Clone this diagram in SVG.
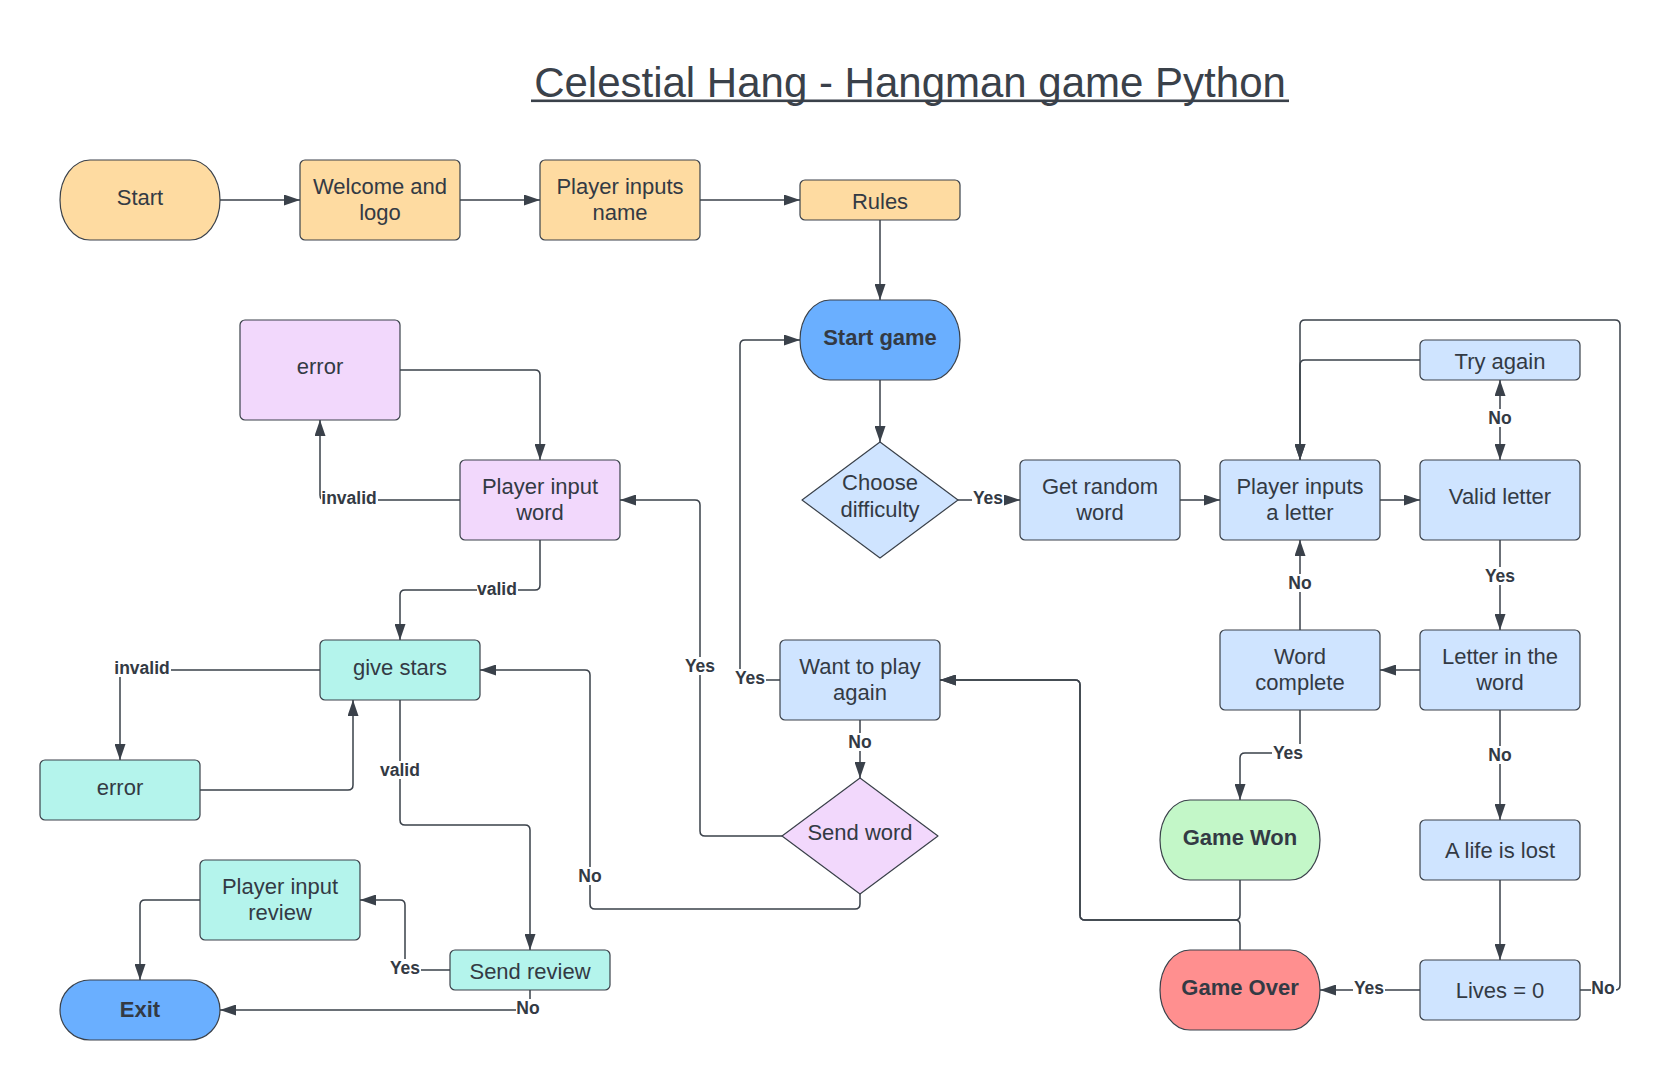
<svg xmlns="http://www.w3.org/2000/svg" width="1661" height="1080" viewBox="0 0 1661 1080">
<style>
text{font-family:"Liberation Sans",Arial,sans-serif;fill:#333a44}
.t{font-size:22px;text-anchor:middle}
.b{font-size:22px;font-weight:bold;text-anchor:middle}
.lbl{font-size:17.5px;font-weight:bold;text-anchor:middle}
.lb{fill:#ffffff;stroke:none}
.sh{stroke:#3a414a;stroke-width:1.2}
.or{fill:#fedba1}
.lbl1{fill:#cfe4ff}
.bl{fill:#6aafff}
.pu{fill:#f2d8fc}
.te{fill:#b4f4ec}
.gr{fill:#c3f7c8}
.rd{fill:#ff8f8f}
.c path{fill:none;stroke:#3a414a;stroke-width:1.5;marker-end:url(#ah)}
</style>
<defs>
<marker id="ah" viewBox="0 0 16 11" refX="16" refY="5.5" markerWidth="16" markerHeight="11" markerUnits="userSpaceOnUse" orient="auto-start-reverse">
<path d="M0,0 L16,5.5 L0,11 z" fill="#3a414a"/>
</marker>
</defs>
<rect x="0" y="0" width="1661" height="1080" fill="#ffffff"/>
<g id="title">
<text x="910" y="97" style="font-size:42px;text-anchor:middle;fill:#3a414a">Celestial Hang - Hangman game Python</text>
<rect x="531" y="99.5" width="758" height="2.6" fill="#3a414a"/>
</g>

<g class="c" id="connectors">
<path d="M220,200 H300"/>
<path d="M460,200 H540"/>
<path d="M700,200 H800"/>
<path d="M880,220 V300"/>
<path d="M880,380 V442"/>
<path d="M958,500 H1020"/>
<path d="M1180,500 H1220"/>
<path d="M1380,500 H1420"/>
<path d="M1500,460 V380" style="marker-start:url(#ah)"/>
<path d="M1420,360 H1305 Q1300,360 1300,365 V460"/>
<path d="M1580,990 H1615 Q1620,990 1620,985 V325 Q1620,320 1615,320 H1305 Q1300,320 1300,325 V460"/>
<path d="M1500,540 V630"/>
<path d="M1420,670 H1380"/>
<path d="M1300,630 V540"/>
<path d="M1300,710 V748 Q1300,753 1295,753 H1245 Q1240,753 1240,758 V800"/>
<path d="M1500,710 V820"/>
<path d="M1500,880 V960"/>
<path d="M1420,990 H1320"/>
<path d="M1240,880 V915 Q1240,920 1235,920 H1085 Q1080,920 1080,915 V685 Q1080,680 1075,680 H940"/>
<path d="M1240,950 V925 Q1240,920 1235,920 H1085 Q1080,920 1080,915 V685 Q1080,680 1075,680 H940"/>
<path d="M780,680 H745 Q740,680 740,675 V345 Q740,340 745,340 H800"/>
<path d="M860,720 V778"/>
<path d="M782,836 H705 Q700,836 700,831 V505 Q700,500 695,500 H620"/>
<path d="M860,893 V904 Q860,909 855,909 H595 Q590,909 590,904 V675 Q590,670 585,670 H480"/>
<path d="M400,370 H535 Q540,370 540,375 V460"/>
<path d="M460,500 H325 Q320,500 320,495 V420"/>
<path d="M540,540 V585 Q540,590 535,590 H405 Q400,590 400,595 V640"/>
<path d="M320,670 H125 Q120,670 120,675 V760"/>
<path d="M200,790 H348 Q353,790 353,785 V700"/>
<path d="M400,700 V820 Q400,825 405,825 H525 Q530,825 530,830 V950"/>
<path d="M450,970 H410 Q405,970 405,965 V905 Q405,900 400,900 H360"/>
<path d="M200,900 H145 Q140,900 140,905 V980"/>
<path d="M530,990 V1005 Q530,1010 525,1010 H220"/>
<g id="labels">
<rect class="lb" x="972" y="489" width="32" height="18"/><text class="lbl" x="988" y="504">Yes</text>
<rect class="lb" x="1488" y="409" width="25" height="18"/><text class="lbl" x="1500" y="424">No</text>
<rect class="lb" x="1484" y="567" width="32" height="18"/><text class="lbl" x="1500" y="582">Yes</text>
<rect class="lb" x="1288" y="574" width="25" height="18"/><text class="lbl" x="1300" y="589">No</text>
<rect class="lb" x="1272" y="744" width="32" height="18"/><text class="lbl" x="1288" y="759">Yes</text>
<rect class="lb" x="1488" y="746" width="25" height="18"/><text class="lbl" x="1500" y="761">No</text>
<rect class="lb" x="1353" y="979" width="32" height="18"/><text class="lbl" x="1369" y="994">Yes</text>
<rect class="lb" x="1591" y="979" width="25" height="18"/><text class="lbl" x="1603" y="994">No</text>
<rect class="lb" x="734" y="669" width="32" height="18"/><text class="lbl" x="750" y="684">Yes</text>
<rect class="lb" x="848" y="733" width="25" height="18"/><text class="lbl" x="860" y="748">No</text>
<rect class="lb" x="684" y="657" width="32" height="18"/><text class="lbl" x="700" y="672">Yes</text>
<rect class="lb" x="578" y="867" width="25" height="18"/><text class="lbl" x="590" y="882">No</text>
<rect class="lb" x="321" y="489" width="57" height="18"/><text class="lbl" x="349" y="504">invalid</text>
<rect class="lb" x="477" y="580" width="41" height="18"/><text class="lbl" x="497" y="595">valid</text>
<rect class="lb" x="114" y="659" width="57" height="18"/><text class="lbl" x="142" y="674">invalid</text>
<rect class="lb" x="380" y="761" width="41" height="18"/><text class="lbl" x="400" y="776">valid</text>
<rect class="lb" x="389" y="959" width="32" height="18"/><text class="lbl" x="405" y="974">Yes</text>
<rect class="lb" x="516" y="999" width="25" height="18"/><text class="lbl" x="528" y="1014">No</text>
</g>
</g>

<g id="start"><rect class="sh or" x="60" y="160" width="160" height="80" rx="30" ry="40"/><text class="t" x="140" y="205">Start</text></g>
<g id="welcome"><rect class="sh or" x="300" y="160" width="160" height="80" rx="5"/><text class="t" x="380" y="193.5">Welcome and</text><text class="t" x="380" y="220">logo</text></g>
<g id="player-name"><rect class="sh or" x="540" y="160" width="160" height="80" rx="5"/><text class="t" x="620" y="193.5">Player inputs</text><text class="t" x="620" y="220">name</text></g>
<g id="rules"><rect class="sh or" x="800" y="180" width="160" height="40" rx="5"/><text class="t" x="880" y="209">Rules</text></g>
<g id="start-game"><rect class="sh bl" x="800" y="300" width="160" height="80" rx="30" ry="40"/><text class="b" x="880" y="345">Start game</text></g>
<g id="error1"><rect class="sh pu" x="240" y="320" width="160" height="100" rx="5"/><text class="t" x="320" y="374">error</text></g>
<g id="player-word"><rect class="sh pu" x="460" y="460" width="160" height="80" rx="5"/><text class="t" x="540" y="493.5">Player input</text><text class="t" x="540" y="520">word</text></g>
<g id="choose"><polygon class="sh lbl1" points="880,442 958,500 880,558 802,500" stroke-linejoin="round"/><text class="t" x="880" y="490">Choose</text><text class="t" x="880" y="516.5">difficulty</text></g>
<g id="random"><rect class="sh lbl1" x="1020" y="460" width="160" height="80" rx="5"/><text class="t" x="1100" y="493.5">Get random</text><text class="t" x="1100" y="520">word</text></g>
<g id="letter"><rect class="sh lbl1" x="1220" y="460" width="160" height="80" rx="5"/><text class="t" x="1300" y="493.5">Player inputs</text><text class="t" x="1300" y="520">a letter</text></g>
<g id="valid"><rect class="sh lbl1" x="1420" y="460" width="160" height="80" rx="5"/><text class="t" x="1500" y="504">Valid letter</text></g>
<g id="try"><rect class="sh lbl1" x="1420" y="340" width="160" height="40" rx="5"/><text class="t" x="1500" y="369">Try again</text></g>
<g id="inword"><rect class="sh lbl1" x="1420" y="630" width="160" height="80" rx="5"/><text class="t" x="1500" y="663.5">Letter in the</text><text class="t" x="1500" y="690">word</text></g>
<g id="complete"><rect class="sh lbl1" x="1220" y="630" width="160" height="80" rx="5"/><text class="t" x="1300" y="663.5">Word</text><text class="t" x="1300" y="690">complete</text></g>
<g id="won"><rect class="sh gr" x="1160" y="800" width="160" height="80" rx="30" ry="40"/><text class="b" x="1240" y="845">Game Won</text></g>
<g id="life"><rect class="sh lbl1" x="1420" y="820" width="160" height="60" rx="5"/><text class="t" x="1500" y="858">A life is lost</text></g>
<g id="lives"><rect class="sh lbl1" x="1420" y="960" width="160" height="60" rx="5"/><text class="t" x="1500" y="998">Lives = 0</text></g>
<g id="over"><rect class="sh rd" x="1160" y="950" width="160" height="80" rx="30" ry="40"/><text class="b" x="1240" y="995">Game Over</text></g>
<g id="again"><rect class="sh lbl1" x="780" y="640" width="160" height="80" rx="5"/><text class="t" x="860" y="673.5">Want to play</text><text class="t" x="860" y="700">again</text></g>
<g id="sendword"><polygon class="sh pu" points="860,778 938,836 860,894 782,836" stroke-linejoin="round"/><text class="t" x="860" y="840">Send word</text></g>
<g id="stars"><rect class="sh te" x="320" y="640" width="160" height="60" rx="5"/><text class="t" x="400" y="675">give stars</text></g>
<g id="error2"><rect class="sh te" x="40" y="760" width="160" height="60" rx="5"/><text class="t" x="120" y="795">error</text></g>
<g id="review"><rect class="sh te" x="200" y="860" width="160" height="80" rx="5"/><text class="t" x="280" y="893.5">Player input</text><text class="t" x="280" y="920">review</text></g>
<g id="sendreview"><rect class="sh te" x="450" y="950" width="160" height="40" rx="5"/><text class="t" x="530" y="979">Send review</text></g>
<g id="exit"><rect class="sh bl" x="60" y="980" width="160" height="60" rx="30" ry="30"/><text class="b" x="140" y="1017">Exit</text></g>
</svg>
